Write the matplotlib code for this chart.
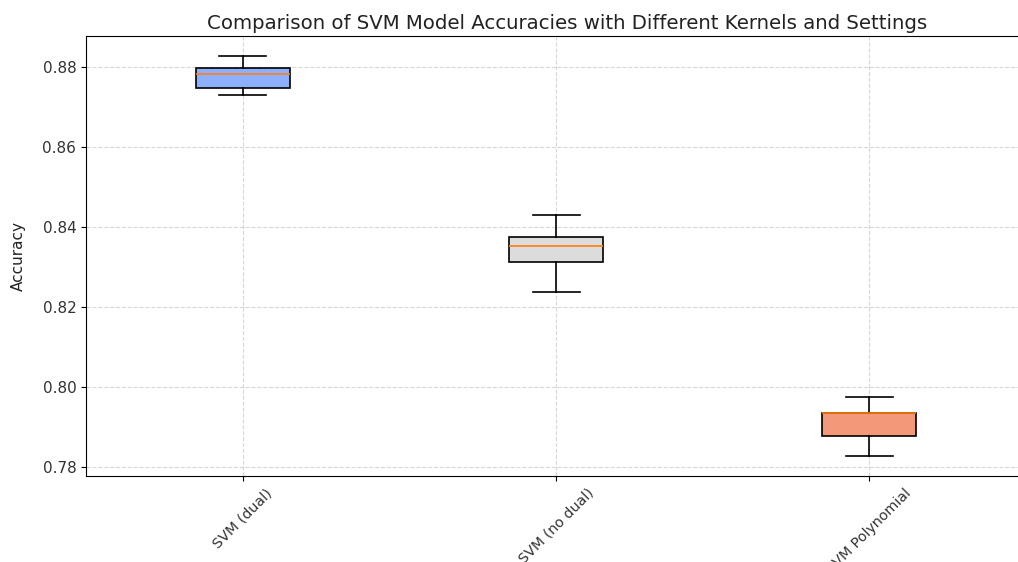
import matplotlib.pyplot as plt
import numpy as np

# models and five-number summaries
models = ['SVM (dual)', 'SVM (no dual)', 'SVM Polynomial']
whislo = [0.8730, 0.8238, 0.7827]
q1 = [0.8748, 0.8312, 0.7877]
med = [0.8783, 0.8352, 0.7934]
q3 = [0.8797, 0.8376, 0.7934]
whishi = [0.88275, 0.8429, 0.7975]

colors = plt.get_cmap('coolwarm')([0.25, 0.5, 0.75])

stats = []
for i in range(len(models)):
    stats.append({'label': models[i], 'whislo': whislo[i], 'q1': q1[i],
                  'med': med[i], 'q3': q3[i], 'whishi': whishi[i], 'fliers': []})

fig = plt.figure(figsize=(10.18, 5.62), dpi=100)
ax = fig.add_axes([86 / 1018, 86 / 562, 940 / 1018, 440 / 562])

bp = ax.bxp(stats, widths=0.3, patch_artist=True,
            boxprops=dict(linewidth=1.2),
            whiskerprops=dict(linewidth=1.2),
            capprops=dict(linewidth=1.2),
            medianprops=dict(color='C1', linewidth=1.2))
for patch, c in zip(bp['boxes'], colors):
    patch.set_facecolor(c)

ax.set_title('Comparison of SVM Model Accuracies with Different Kernels and Settings',
             fontsize=14.2, color='#222222', pad=5, x=0.512)
ax.set_ylabel('Accuracy', fontsize=11, labelpad=12, color='#222222')
ax.tick_params(axis='y', labelsize=11, labelcolor='#333333')
ax.tick_params(axis='x', labelsize=10.3, labelrotation=45, labelcolor='#333333')
ax.grid(True, linestyle='--', alpha=0.5)

plt.savefig('out.png', dpi=100)
